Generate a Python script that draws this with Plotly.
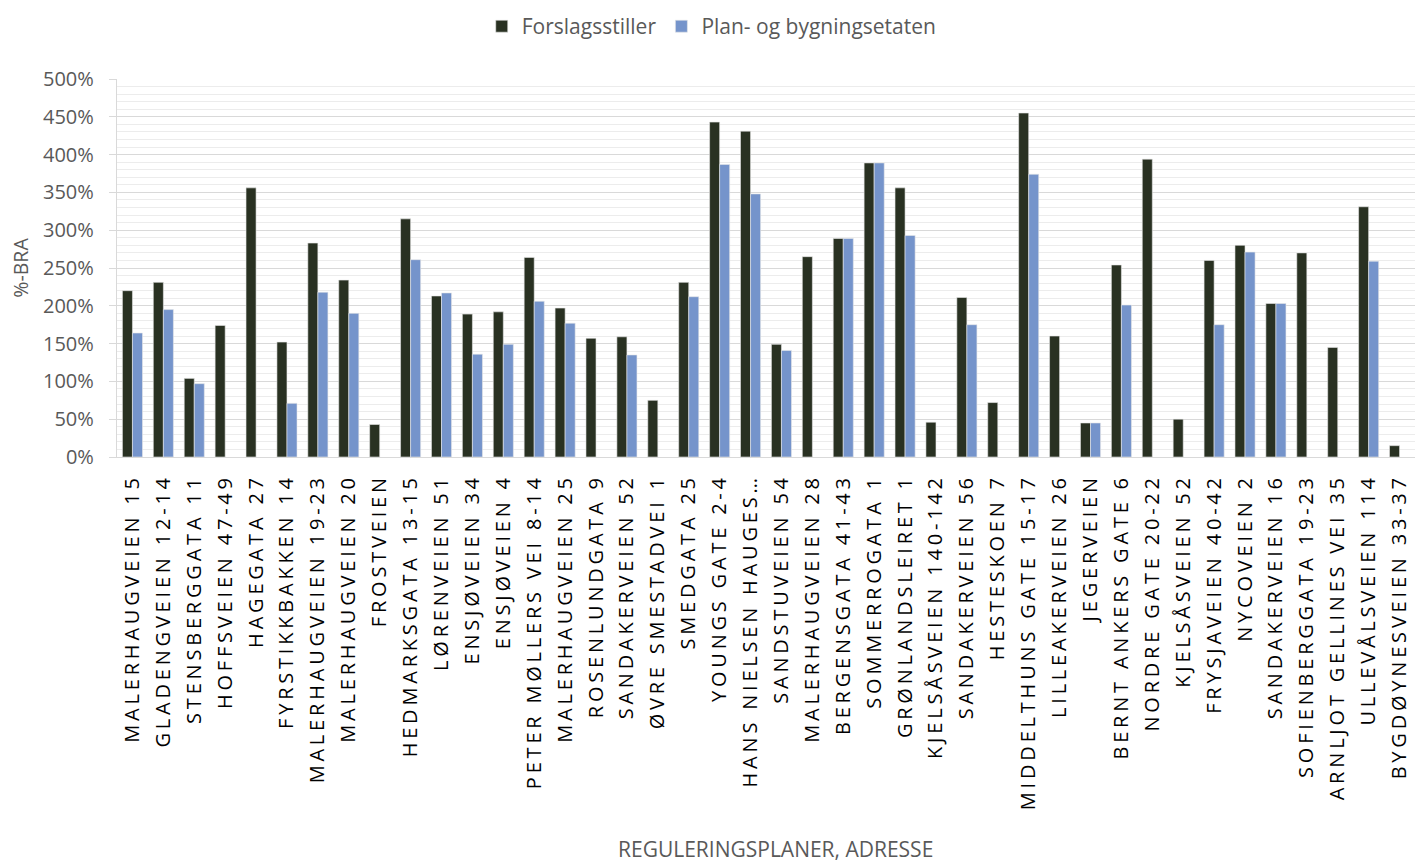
import plotly.graph_objects as go

categories = [
    "MALERHAUGVEIEN 15", "GLADENGVEIEN 12-14", "STENSBERGGATA 11", "HOFFSVEIEN 47-49",
    "HAGEGATA 27", "FYRSTIKKBAKKEN 14", "MALERHAUGVEIEN 19-23", "MALERHAUGVEIEN 20",
    "FROSTVEIEN", "HEDMARKSGATA 13-15", "LØRENVEIEN 51", "ENSJØVEIEN 34", "ENSJØVEIEN 4",
    "PETER MØLLERS VEI 8-14", "MALERHAUGVEIEN 25", "ROSENLUNDGATA 9", "SANDAKERVEIEN 52",
    "ØVRE SMESTADVEI 1", "SMEDGATA 25", "YOUNGS GATE 2-4", "HANS NIELSEN HAUGES…",
    "SANDSTUVEIEN 54", "MALERHAUGVEIEN 28", "BERGENSGATA 41-43", "SOMMERROGATA 1",
    "GRØNLANDSLEIRET 1", "KJELSÅSVEIEN 140-142", "SANDAKERVEIEN 56", "HESTESKOEN 7",
    "MIDDELTHUNS GATE 15-17", "LILLEAKERVEIEN 26", "JEGERVEIEN", "BERNT ANKERS GATE 6",
    "NORDRE GATE 20-22", "KJELSÅSVEIEN 52", "FRYSJAVEIEN 40-42", "NYCOVEIEN 2",
    "SANDAKERVEIEN 16", "SOFIENBERGGATA 19-23", "ARNLJOT GELLINES VEI 35",
    "ULLEVÅLSVEIEN 114", "BYGDØYNESVEIEN 33-37",
]

forslagsstiller = [
    220, 231, 104, 174, 356, 152, 283, 234, 43, 315, 213, 189, 192, 264, 197, 157, 159,
    75, 231, 443, 431, 149, 265, 289, 389, 356, 46, 211, 72, 455, 160, 45, 254, 394, 50,
    260, 280, 203, 270, 145, 331, 15,
]

pbe = [
    164, 195, 97, None, None, 71, 218, 190, None, 261, 217, 136, 149, 206, 177, None, 135,
    None, 212, 387, 348, 141, None, 289, 389, 293, None, 175, None, 374, None, 45, 201,
    None, None, 175, 271, 203, None, None, 259, None,
]

y_ticks = [0, 50, 100, 150, 200, 250, 300, 350, 400, 450, 500]
y_tick_labels = ["0%", "50%", "100%", "150%", "200%", "250%", "300%", "350%", "400%",
                 "450%", "500%"]

DARK = "#293122"
BLUE = "#7594CB"
GREY_TXT = "#595959"
FONT = "Open Sans"

fig = go.Figure()
fig.add_trace(go.Bar(
    x=categories, y=forslagsstiller, name="Forslagsstiller",
    marker=dict(color=DARK, line=dict(color="#e8e8e8", width=0.6)),
))
fig.add_trace(go.Bar(
    x=categories, y=pbe, name="Plan- og bygningsetaten",
    marker=dict(color=BLUE, line=dict(color="#e8e8e8", width=0.6)),
))

fig.update_layout(
    width=1415, height=864,
    margin=dict(l=117, r=0, t=79, b=407, autoexpand=False),
    paper_bgcolor="white", plot_bgcolor="white",
    barmode="group", bargap=0.35, bargroupgap=0,
    font=dict(family=FONT, color=GREY_TXT),
    legend=dict(
        orientation="h", xref="container", yref="container",
        x=0.503, xanchor="center", y=0.993, yanchor="top",
        font=dict(size=21, color=GREY_TXT), itemwidth=30, tracegroupgap=0,
    ),
    showlegend=True,
)

fig.update_xaxes(
    range=[-0.5, 41.5], tickangle=-90, automargin=False,
    tickfont=dict(family=FONT, size=20, color="#000000"),
    showline=True, linecolor="#d9d9d9", linewidth=1.3,
    showgrid=False, ticks="", ticklabelstandoff=8,
)

fig.update_yaxes(
    range=[0, 500], tickmode="array", tickvals=y_ticks, ticktext=y_tick_labels,
    automargin=False,
    tickfont=dict(family=FONT, size=20, color=GREY_TXT),
    showline=True, linecolor="#d9d9d9", linewidth=1.3,
    showgrid=True, gridcolor="#d9d9d9", gridwidth=1.3,
    ticks="outside", ticklen=7, tickcolor="#d9d9d9", tickwidth=1.3,
    ticklabelstandoff=11,
    minor=dict(dtick=10, showgrid=True, gridcolor="#ececec", gridwidth=1.3, ticks=""),
    zeroline=False,
)

fig.add_annotation(
    text="%-BRA", xref="paper", yref="paper", x=-0.075, y=0.5,
    xanchor="center", yanchor="middle", textangle=-90, showarrow=False,
    font=dict(family=FONT, size=19.5, color=GREY_TXT),
)
fig.add_annotation(
    text="REGULERINGSPLANER, ADRESSE", xref="paper", yref="paper",
    x=0.507, y=-1.038, xanchor="center", yanchor="middle", showarrow=False,
    font=dict(family=FONT, size=21, color=GREY_TXT),
)

post = (
    "document.body.style.margin='0';"
    "document.querySelectorAll('.xtick text').forEach(function(t){t.style.letterSpacing='3.8px';});"
)
fig.write_html("out.html", post_script=post, config={"displayModeBar": False})
